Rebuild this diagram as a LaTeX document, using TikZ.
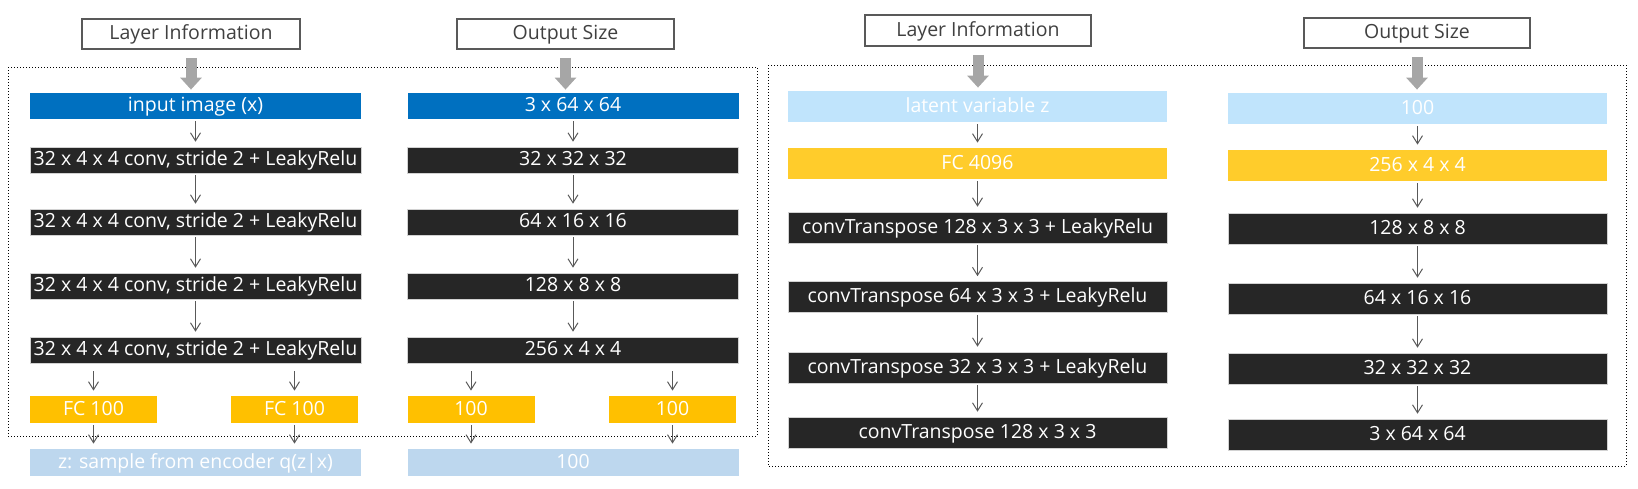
\documentclass[tikz,border=0pt]{standalone}
\usepackage{fontspec}
\setmainfont{Open Sans}
\usepackage{tikz}
\usetikzlibrary{arrows.meta}

\definecolor{hdrline}{HTML}{595959}
\definecolor{hdrtext}{HTML}{404040}
\definecolor{layerblue}{HTML}{0070C0}
\definecolor{layerdark}{HTML}{262626}
\definecolor{layergold}{HTML}{FFC000}
\definecolor{layerpale}{HTML}{BDD7EE}
\definecolor{decgold}{HTML}{FFCC2B}
\definecolor{decpale}{HTML}{C0E4FC}
\definecolor{flowgray}{HTML}{595959}
\definecolor{biggray}{HTML}{A6A6A6}

\begin{document}
\begin{tikzpicture}[x=0.5pt,y=-0.5pt]
	\tikzstyle{every node}=[font=\fontsize{9.75}{11}\selectfont, inner sep=0pt, text height=1.55ex, text depth=0.45ex]
	\tikzstyle{head}=[draw=hdrline, line width=0.8pt, fill=white, text=hdrtext]
	\tikzstyle{blue}=[fill=layerblue, text=white]
	\tikzstyle{dark}=[fill=layerdark, text=white, draw=gray!35, line width=0.3pt]
	\tikzstyle{gold}=[fill=layergold, text=white]
	\tikzstyle{pale}=[fill=layerpale, text=white]
	\tikzstyle{goldtwo}=[fill=decgold, text=white]
	\tikzstyle{paletwo}=[fill=decpale, text=white]
	\tikzstyle{encwide}=[minimum width=165.5pt, minimum height=13pt]
	\tikzstyle{encnarrow}=[minimum width=63.5pt, minimum height=13.5pt]
	\tikzstyle{decwide}=[minimum width=189.5pt, minimum height=15.5pt]
	\tikzstyle{frame}=[densely dotted, line width=0.5pt]
	\tikzstyle{flow}=[draw=flowgray, line width=0.5pt, -{Straight Barb[length=4pt,width=5pt]}, shorten >=2.5pt, shorten <=1pt]
	\tikzstyle{bigarrow}=[draw=biggray, line width=5.5pt, -{Triangle[length=6pt,width=10.5pt]}, shorten <=4pt, shorten >=1.5pt]
	\useasboundingbox (0,0) rectangle (1638,488);

	%%Encoder
	\node [head, minimum width=109pt, minimum height=15pt] (encInfo) at (191,34) {Layer Information};
	\node [head, minimum width=108.5pt, minimum height=15pt] (encSize) at (565.5,34) {Output Size};
	\draw [frame] (8,67) rectangle (757,436);

	\node [blue, encwide] (x0) at (195.5,106) {input image (x)};
	\node [dark, encwide] (x1) at (195.5,160) {32 x 4 x 4 conv, stride 2 + LeakyRelu};
	\node [dark, encwide] (x2) at (195.5,222) {32 x 4 x 4 conv, stride 2 + LeakyRelu};
	\node [dark, encwide] (x3) at (195.5,286) {32 x 4 x 4 conv, stride 2 + LeakyRelu};
	\node [dark, encwide] (x4) at (195.5,350) {32 x 4 x 4 conv, stride 2 + LeakyRelu};
	\node [gold, encnarrow] (fcA) at (93.5,409.5) {FC 100};
	\node [gold, encnarrow] (fcB) at (294.5,409.5) {FC 100};
	\node [pale, encwide, minimum height=13.5pt] (zs) at (195.5,462.5) {z: sample from encoder q(z|x)};

	\node [blue, encwide] (s0) at (573,106) {3 x 64 x 64};
	\node [dark, encwide] (s1) at (573,160) {32 x 32 x 32};
	\node [dark, encwide] (s2) at (573,222) {64 x 16 x 16};
	\node [dark, encwide] (s3) at (573,286) {128 x 8 x 8};
	\node [dark, encwide] (s4) at (573,350) {256 x 4 x 4};
	\node [gold, encnarrow] (muA) at (471,409.5) {100};
	\node [gold, encnarrow] (muB) at (672.5,409.5) {100};
	\node [pale, encwide, minimum height=13.5pt] (zsize) at (573,462.5) {100};

	\draw [bigarrow] (encInfo.south) -- (encInfo.south |- x0.north);
	\draw [bigarrow] (encSize.south) -- (encSize.south |- s0.north);
	\draw [flow] (x0) -- (x1);
	\draw [flow] (x1) -- (x2);
	\draw [flow] (x2) -- (x3);
	\draw [flow] (x3) -- (x4);
	\draw [flow, shorten <=4pt] (x4.south -| fcA) -- (fcA);
	\draw [flow, shorten <=4pt] (x4.south -| fcB) -- (fcB);
	\draw [flow] (fcA) -- (zs.north -| fcA);
	\draw [flow] (fcB) -- (zs.north -| fcB);
	\draw [flow] (s0) -- (s1);
	\draw [flow] (s1) -- (s2);
	\draw [flow] (s2) -- (s3);
	\draw [flow] (s3) -- (s4);
	\draw [flow, shorten <=4pt] (s4.south -| muA) -- (muA);
	\draw [flow, shorten <=4pt] (s4.south -| muB) -- (muB);
	\draw [flow] (muA) -- (zsize.north -| muA);
	\draw [flow] (muB) -- (zsize.north -| muB);

	%%Decoder
	\node [head, minimum width=113pt, minimum height=15.5pt] (decInfo) at (978,30.5) {Layer Information};
	\node [head, minimum width=113pt, minimum height=15pt] (decSize) at (1417,33) {Output Size};
	\draw [frame] (768,65) rectangle (1626,466);

	\node [paletwo, decwide] (z0) at (977.5,106.5) {latent variable z};
	\node [goldtwo, decwide] (d1) at (977.5,163.5) {FC 4096};
	\node [dark, decwide] (d2) at (977.5,227.5) {convTranspose 128 x 3 x 3 + LeakyRelu};
	\node [dark, decwide] (d3) at (977.5,297) {convTranspose 64 x 3 x 3 + LeakyRelu};
	\node [dark, decwide] (d4) at (977.5,367.5) {convTranspose 32 x 3 x 3 + LeakyRelu};
	\node [dark, decwide] (d5) at (977.5,432.5) {convTranspose 128 x 3 x 3};

	\node [paletwo, decwide] (o0) at (1417.5,108.5) {100};
	\node [goldtwo, decwide] (o1) at (1417.5,165.5) {256 x 4 x 4};
	\node [dark, decwide] (o2) at (1417.5,228.5) {128 x 8 x 8};
	\node [dark, decwide] (o3) at (1417.5,298.5) {64 x 16 x 16};
	\node [dark, decwide] (o4) at (1417.5,368.5) {32 x 32 x 32};
	\node [dark, decwide] (o5) at (1417.5,434.5) {3 x 64 x 64};

	\draw [bigarrow] (decInfo.south) -- (decInfo.south |- z0.north);
	\draw [bigarrow] (decSize.south) -- (decSize.south |- o0.north);
	\draw [flow] (z0) -- (d1);
	\draw [flow] (d1) -- (d2);
	\draw [flow] (d2) -- (d3);
	\draw [flow] (d3) -- (d4);
	\draw [flow] (d4) -- (d5);
	\draw [flow] (o0) -- (o1);
	\draw [flow] (o1) -- (o2);
	\draw [flow] (o2) -- (o3);
	\draw [flow] (o3) -- (o4);
	\draw [flow] (o4) -- (o5);

\end{tikzpicture}
\end{document}
